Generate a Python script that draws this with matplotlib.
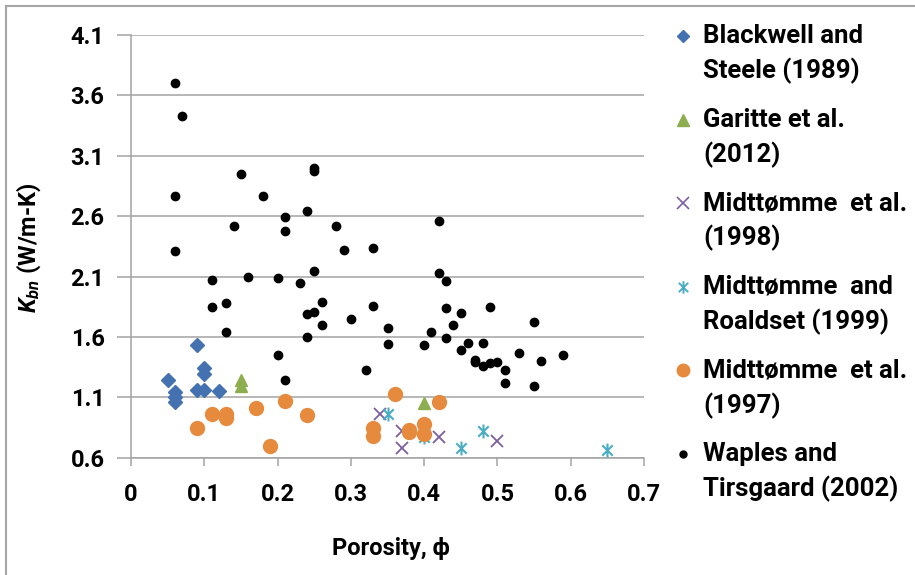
import matplotlib
matplotlib.use("Agg")
import matplotlib.pyplot as plt
from matplotlib.lines import Line2D
from matplotlib.path import Path

FAM = 'Roboto'
plt.rcParams['font.family'] = [FAM, 'DejaVu Sans']
plt.rcParams['font.weight'] = 'bold'
plt.rcParams['mathtext.fontset'] = 'custom'
plt.rcParams['mathtext.it'] = FAM + ':italic:bold'
plt.rcParams['mathtext.rm'] = FAM + ':bold'

# ---- data ----
blackwell_x = [0.09, 0.10, 0.10, 0.05, 0.06, 0.06, 0.06, 0.09, 0.10, 0.12]
blackwell_y = [1.53, 1.34, 1.29, 1.24, 1.14, 1.10, 1.06, 1.16, 1.16, 1.15]

garitte_x = [0.15, 0.15, 0.40]
garitte_y = [1.24, 1.19, 1.05]

m1998_x = [0.34, 0.37, 0.37, 0.42, 0.50]
m1998_y = [0.96, 0.82, 0.68, 0.77, 0.74]

m1999_x = [0.35, 0.40, 0.45, 0.48, 0.65]
m1999_y = [0.96, 0.77, 0.68, 0.82, 0.66]

m1997_x = [0.11, 0.13, 0.13, 0.17, 0.21, 0.24, 0.09, 0.19, 0.36, 0.42,
           0.33, 0.33, 0.38, 0.38, 0.40, 0.40]
m1997_y = [0.96, 0.96, 0.93, 1.01, 1.07, 0.95, 0.85, 0.70, 1.13, 1.06,
           0.85, 0.78, 0.83, 0.81, 0.88, 0.80]

waples_x = [0.06, 0.07, 0.06, 0.06, 0.15, 0.18, 0.14, 0.21, 0.21, 0.24,
            0.28, 0.42, 0.29, 0.33, 0.25, 0.23, 0.42, 0.43, 0.26, 0.24,
            0.25, 0.33, 0.43, 0.45, 0.49, 0.26, 0.30, 0.44, 0.55, 0.24,
            0.35, 0.35, 0.41, 0.43, 0.40, 0.46, 0.48, 0.45, 0.53, 0.47,
            0.47, 0.48, 0.49, 0.50, 0.56, 0.59, 0.51, 0.32, 0.51, 0.55,
            0.13, 0.20, 0.21, 0.25, 0.25, 0.11, 0.16, 0.20, 0.11, 0.13]
waples_y = [3.70, 3.43, 2.77, 2.31, 2.95, 2.77, 2.52, 2.59, 2.48, 2.64,
            2.52, 2.56, 2.32, 2.34, 2.15, 2.05, 2.13, 2.06, 1.89, 1.79,
            1.81, 1.86, 1.84, 1.80, 1.85, 1.70, 1.75, 1.70, 1.72, 1.60,
            1.67, 1.54, 1.64, 1.59, 1.53, 1.55, 1.55, 1.49, 1.47, 1.41,
            1.39, 1.36, 1.38, 1.39, 1.40, 1.45, 1.33, 1.33, 1.22, 1.19,
            1.64, 1.45, 1.24, 3.00, 2.97, 2.07, 2.10, 2.09, 1.85, 1.88]

labels = ["Blackwell and\nSteele (1989)",
          "Garitte et al.\n(2012)",
          "Midttømme  et al.\n(1998)",
          "Midttømme  and\nRoaldset (1999)",
          "Midttømme  et al.\n(1997)",
          "Waples and\nTirsgaard (2002)"]

x_ticks = [0, 0.1, 0.2, 0.3, 0.4, 0.5, 0.6, 0.7]
x_ticklabels = ["0", "0.1", "0.2", "0.3", "0.4", "0.5", "0.6", "0.7"]
y_ticks = [0.6, 1.1, 1.6, 2.1, 2.6, 3.1, 3.6, 4.1]
y_ticklabels = ["0.6", "1.1", "1.6", "2.1", "2.6", "3.1", "3.6", "4.1"]

# ---- styles ----
C_BLUE = '#4472B0'
C_GREEN = '#8DAE4E'
C_PURPLE = '#7D5FA0'
C_TEAL = '#4AACC5'
C_ORANGE = '#E68A3E'
GRID = '#A3A3A3'

star = Path([(0, -1), (0, 1), (-0.75, -0.75), (0.75, 0.75), (-0.75, 0.75), (0.75, -0.75)],
            [Path.MOVETO, Path.LINETO, Path.MOVETO, Path.LINETO, Path.MOVETO, Path.LINETO])

W, H = 915, 575
fig = plt.figure(figsize=(W / 100, H / 100), dpi=100)
ax = fig.add_axes([131 / W, (H - 457.7) / H, (644 - 131) / W, (457.7 - 35) / H])

styles = [
    dict(marker='D', ms=7, color=C_BLUE, mec=C_BLUE, ls='none'),
    dict(marker='^', ms=9, color=C_GREEN, mec=C_GREEN, ls='none'),
    dict(marker='x', ms=9, color=C_PURPLE, mew=1.3, ls='none'),
    dict(marker=star, ms=10, color=C_TEAL, mew=1.5, ls='none'),
    dict(marker='o', ms=10, color=C_ORANGE, mec=C_ORANGE, ls='none'),
    dict(marker='o', ms=6, color='black', ls='none'),
]
series = [(blackwell_x, blackwell_y), (garitte_x, garitte_y), (m1998_x, m1998_y),
          (m1999_x, m1999_y), (m1997_x, m1997_y), (waples_x, waples_y)]

for (xs, ys), st in zip(series, styles):
    ax.plot(xs, ys, clip_on=False, zorder=3, **st)

ax.set_xlim(0, 0.7)
ax.set_ylim(0.6, 4.1)
ax.set_xticks(x_ticks)
ax.set_xticklabels(x_ticklabels)
ax.set_yticks(y_ticks)
ax.set_yticklabels(y_ticklabels)
ax.grid(axis='y', color=GRID, lw=1.1, zorder=0)
ax.set_axisbelow(True)
for s in ['top', 'right']:
    ax.spines[s].set_visible(False)
for s in ['left', 'bottom']:
    ax.spines[s].set_color(GRID)
    ax.spines[s].set_linewidth(1.1)
ax.tick_params(axis='x', direction='out', length=6, width=1.1, color=GRID,
               pad=12, labelsize=17)
ax.tick_params(axis='y', direction='out', length=10, width=1.1, color=GRID,
               pad=9, labelsize=17)
for t in ax.get_xticklabels() + ax.get_yticklabels():
    t.set_fontweight('bold')

ax.set_xlabel("Porosity, \u03d5", fontsize=17, fontweight='bold')
ax.xaxis.set_label_coords(0.507, -0.215)
ax.xaxis.label.set_va('center')
ax.set_ylabel(r"$K_{bn}$ (W/m-K)", fontsize=17, fontweight='bold')
ax.yaxis.set_label_coords(-0.2, 0.496)
ax.yaxis.label.set_va('center')

# ---- legend (manual, marker aligned with first line) ----
leg_styles = [
    dict(marker='D', ms=6, color=C_BLUE),
    dict(marker='^', ms=8, color=C_GREEN),
    dict(marker='x', ms=8, color=C_PURPLE, mew=1.2),
    dict(marker=star, ms=9, color=C_TEAL, mew=1.4),
    dict(marker='o', ms=9, color=C_ORANGE),
    dict(marker='o', ms=5, color='black'),
]
row0, dy, line_gap = 36, 83.6, 35
for i, (lab, st) in enumerate(zip(labels, leg_styles)):
    yc = row0 + i * dy
    fig.add_artist(Line2D([683 / W], [1 - yc / H], ls='none', **st))
    l1, l2 = lab.split("\n")
    fig.text(703 / W, 1 - yc / H, l1, fontsize=18.5, fontweight='bold', va='center', ha='left')
    fig.text(703 / W, 1 - (yc + line_gap) / H, l2, fontsize=18.5, fontweight='bold', va='center', ha='left')

# chart frame (top and left edges visible)
fig.add_artist(Line2D([5.5 / W, 5.5 / W], [0, 1 - 5.5 / H], color='#A6A6A6', lw=1.5))
fig.add_artist(Line2D([5.5 / W, 1], [1 - 5.5 / H, 1 - 5.5 / H], color='#A6A6A6', lw=1.5))

fig.savefig("out.png", dpi=100)
